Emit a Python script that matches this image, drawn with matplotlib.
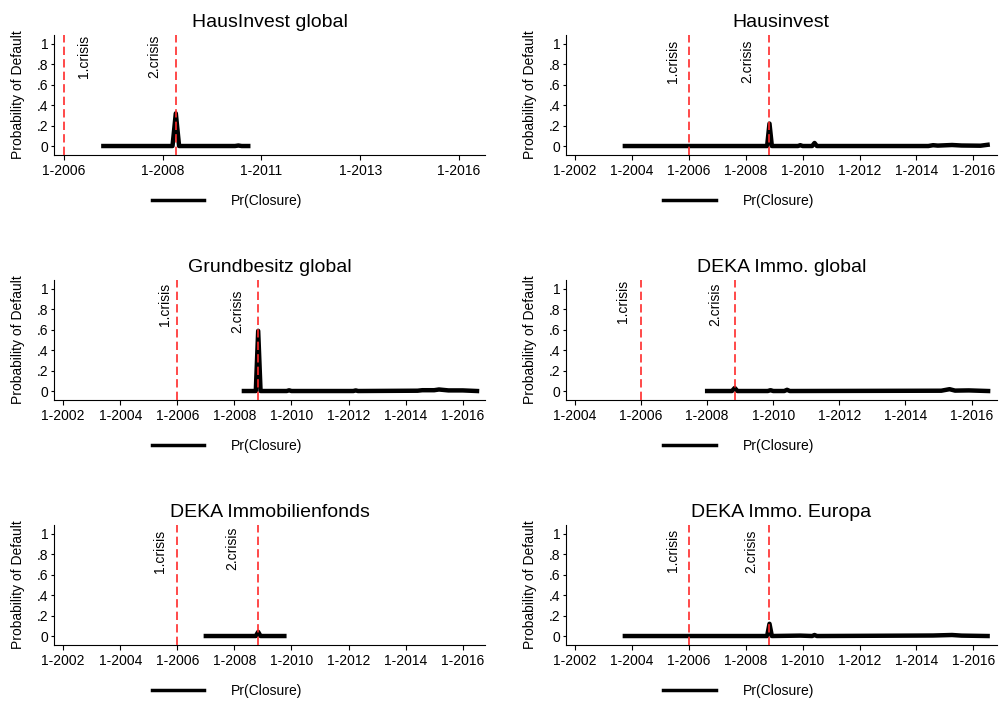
import matplotlib
matplotlib.use("Agg")
import matplotlib.pyplot as plt

plt.rcParams['font.family'] = ['Liberation Sans', 'DejaVu Sans']
plt.rcParams['font.size'] = 10
plt.rcParams['lines.scale_dashes'] = False

# crisis dates (month)
crisis_1 = "2006-01"
crisis_2 = "2008-11"

# Pr(Closure) per fund, monthly dates where the series changes
hausinvest_global_dates = ["2007-01", "2008-10", "2008-11", "2008-12", "2010-05", "2010-06", "2010-07", "2010-09"]
hausinvest_global_vals = [0, 0, 0.32, 0, 0, 0.005, 0, 0]

hausinvest_dates = ["2003-10", "2008-10", "2008-11", "2008-12", "2009-11", "2009-12", "2010-01",
                    "2010-05", "2010-06", "2010-07", "2014-06", "2014-08", "2014-10", "2015-04",
                    "2015-08", "2016-04", "2016-07"]
hausinvest_vals = [0, 0, 0.22, 0, 0, 0.008, 0, 0, 0.03, 0, 0, 0.008, 0.004, 0.01, 0.005, 0.003, 0.012]

grundbesitz_dates = ["2008-05", "2008-10", "2008-11", "2008-12", "2009-11", "2009-12", "2010-01",
                     "2012-03", "2012-04", "2012-05", "2014-06", "2014-08", "2015-01", "2015-03",
                     "2015-07", "2016-01", "2016-07"]
grundbesitz_vals = [0, 0, 0.59, 0, 0, 0.007, 0, 0, 0.006, 0, 0.003, 0.008, 0.008, 0.015, 0.006, 0.006, 0]

deka_global_dates = ["2008-01", "2008-10", "2008-11", "2008-12", "2009-11", "2009-12", "2010-01",
                     "2010-05", "2010-06", "2010-07", "2015-02", "2015-05", "2015-07", "2015-12", "2016-07"]
deka_global_vals = [0, 0, 0.03, 0, 0, 0.008, 0, 0, 0.012, 0, 0.003, 0.018, 0.004, 0.006, 0]

deka_fonds_dates = ["2007-01", "2008-10", "2008-11", "2008-12", "2009-10"]
deka_fonds_vals = [0, 0, 0.04, 0, 0]

deka_europa_dates = ["2003-10", "2008-10", "2008-11", "2008-12", "2009-12", "2010-05", "2010-06",
                     "2010-07", "2014-08", "2015-04", "2015-08", "2016-07"]
deka_europa_vals = [0, 0, 0.12, 0, 0.004, 0, 0.01, 0, 0.005, 0.01, 0.004, 0]

titles = ["HausInvest global", "Hausinvest", "Grundbesitz global",
          "DEKA Immo. global", "DEKA Immobilienfonds", "DEKA Immo. Europa"]
all_dates = [hausinvest_global_dates, hausinvest_dates, grundbesitz_dates,
             deka_global_dates, deka_fonds_dates, deka_europa_dates]
all_vals = [hausinvest_global_vals, hausinvest_vals, grundbesitz_vals,
            deka_global_vals, deka_fonds_vals, deka_europa_vals]

y_ticks = [0, 0.2, 0.4, 0.6, 0.8, 1]
y_ticklabels = ["0", ".2", ".4", ".6", ".8", "1"]

ticks_a = [2006, 2008.5, 2011, 2013.5, 2016]
labels_a = ["1-2006", "1-2008", "1-2011", "1-2013", "1-2016"]
ticks_b = [2002, 2004, 2006, 2008, 2010, 2012, 2014, 2016]
labels_b = ["1-" + str(t) for t in ticks_b]
ticks_c = [2004, 2006, 2008, 2010, 2012, 2014, 2016]
labels_c = ["1-" + str(t) for t in ticks_c]

# layout: x range, ticks, labels, crisis label positions
layout = [
    [(2005.75, 2016.66), ticks_a, labels_a, (2006.5, 0.88), (2008.3, 0.88)],
    [(2001.67, 2016.82), ticks_b, labels_b, (2005.44, 0.83), (2008.05, 0.83)],
    [(2001.68, 2016.78), ticks_b, labels_b, (2005.57, 0.85), (2008.1, 0.785)],
    [(2003.72, 2016.76), ticks_c, labels_c, (2005.46, 0.876), (2008.23, 0.847)],
    [(2001.68, 2016.78), ticks_b, labels_b, (2005.38, 0.833), (2007.91, 0.86)],
    [(2001.67, 2016.82), ticks_b, labels_b, (2005.44, 0.843), (2008.2, 0.826)],
]


def to_year(d):
    y, m = d.split("-")
    return int(y) + (int(m) - 1) / 12.0


W, H = 999, 702
fig = plt.figure(figsize=(W / 100, H / 100), dpi=100)
lefts = [54, 565.7]
tops = [35, 280, 525]

for i in range(6):
    col = i % 2
    row = i // 2
    ax = fig.add_axes([lefts[col] / W, 1 - (tops[row] + 120) / H, 431 / W, 120 / H])
    xr, xt, xl, t1, t2 = layout[i]

    x = [to_year(d) for d in all_dates[i]]
    ax.plot(x, all_vals[i], color="black", lw=3.2, label="Pr(Closure)", zorder=2)
    for c in [crisis_1, crisis_2]:
        ax.axvline(to_year(c), color="#ff2a2a", lw=1.2, dashes=(6, 3), zorder=3)
    ax.text(t1[0], t1[1], "1.crisis", rotation=90, ha="center", va="center", fontsize=10)
    ax.text(t2[0], t2[1], "2.crisis", rotation=90, ha="center", va="center", fontsize=10)

    ax.set_xlim(xr)
    ax.set_ylim(-0.088, 1.088)
    ax.set_xticks(xt)
    ax.set_xticklabels(xl)
    ax.set_yticks(y_ticks)
    ax.set_yticklabels(y_ticklabels)
    ax.tick_params(axis="x", length=3.5, width=0.8, pad=3)
    ax.tick_params(axis="y", length=2.5, width=0.8, pad=1.5)
    ax.spines["top"].set_visible(False)
    ax.spines["right"].set_visible(False)
    ax.spines["left"].set_linewidth(0.8)
    ax.spines["bottom"].set_linewidth(0.8)

    ax.set_title(titles[i], fontsize=14, pad=6)
    ax.set_ylabel("Probability of Default")
    ax.yaxis.set_label_coords(-29 / 431, 0.5)

    leg = ax.legend(loc="center left", bbox_to_anchor=(0.2267, -0.38), frameon=False,
                    handlelength=3.8, handletextpad=1.9, borderpad=0, borderaxespad=0)
    leg.get_lines()[0].set_linewidth(2.5)

fig.savefig("out.png", dpi=100)
